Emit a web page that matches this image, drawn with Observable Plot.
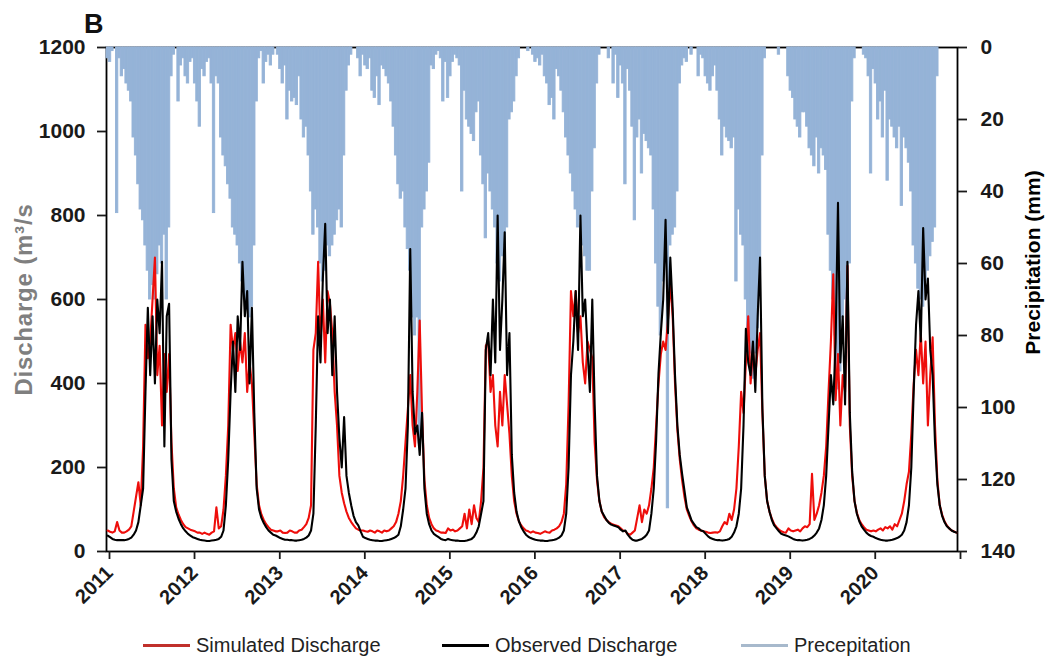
<!DOCTYPE html>
<html>
<head>
<meta charset="utf-8">
<script src="https://cdn.jsdelivr.net/npm/d3@7"></script>
<script src="https://cdn.jsdelivr.net/npm/@observablehq/plot@0.6"></script>
<style>
  html, body { margin: 0; padding: 0; background: #fff; }
  #wrap { position: relative; width: 1050px; height: 662px; overflow: hidden; font-family: "Liberation Sans", Arial, sans-serif; }
  #title { position: absolute; left: 84px; top: 9px; font-size: 27px; font-weight: bold; color: #111; }
  #chart { position: absolute; left: 0; top: 0; }
  #legend { position: absolute; top: 631px; left: 0; width: 1050px; height: 28px; }
  .item { position: absolute; top: 0; display: flex; align-items: center; height: 28px; font-size: 20px; color: #222; }
  .sw { width: 47px; height: 3px; margin-right: 6px; }
</style>
</head>
<body>
<div id="wrap">
  <div id="chart"></div>
  <div id="title">B</div>
  <div id="legend"></div>
</div>
<script>
// ---- data (dekadal values, 36 per year) ----
const years = [2011, 2012, 2013, 2014, 2015, 2016, 2017, 2018, 2019, 2020];

const observedQ = [
  38,34,30,28,27,27,27,27,28,30,33,40, 50,70,110,150,380,580, 420,560,400,600,520,690, 250,560,590,220,120,95, 78,65,55,48,42,38,
  34,32,30,28,27,26,25,25,26,27,28,30, 35,50,110,220,380,500, 380,560,480,690,560,620, 400,580,330,150,100,80, 68,58,50,45,40,38,
  35,32,30,28,28,27,27,26,26,27,28,30, 33,38,50,90,300,560, 450,650,780,520,600,420, 560,380,270,200,320,180, 140,110,85,70,62,48,
  35,32,30,28,27,26,26,25,25,26,27,28, 30,32,35,40,60,100, 150,300,720,380,280,300, 230,330,150,90,65,50, 42,38,34,30,28,27,
  30,28,27,26,26,25,25,25,26,28,30,35, 45,60,90,120,480,520, 420,600,450,800,480,600, 760,420,520,230,140,95, 72,58,48,40,35,32,
  30,28,27,26,26,25,25,26,27,28,30,33, 38,50,90,200,420,500, 620,480,800,560,600,480, 380,600,350,180,120,95, 85,75,68,64,62,60,
  58,52,48,50,40,33,28,26,26,28,30,34, 40,50,90,150,264,423, 520,600,790,520,700,580, 420,300,230,185,145,105, 90,74,66,58,55,50,
  48,42,36,32,30,28,27,27,26,27,28,30, 35,45,60,90,150,300, 530,450,420,500,380,560, 700,340,180,120,95,75, 62,55,48,42,40,38,
  36,33,30,28,27,27,26,27,28,30,33,38, 45,55,75,110,180,300, 420,350,500,830,450,560, 350,690,330,190,120,90, 72,60,52,45,40,37,
  35,32,30,28,27,26,26,27,28,30,32,35, 40,50,70,110,200,380, 540,620,500,770,600,650, 480,420,260,160,110,85, 70,60,55,50,47,45
];

const simulatedQ = [
  50,47,45,48,70,50,45,45,48,52,60,95, 130,165,110,250,540,460, 500,600,700,420,490,300, 470,380,470,260,150,105, 88,75,65,58,55,52,
  50,48,45,45,42,45,42,40,45,48,105,55, 60,100,180,300,540,480, 520,430,500,450,520,380, 450,400,280,160,110,88, 75,65,58,52,50,48,
  48,50,45,44,45,50,48,45,45,50,52,58, 65,80,110,480,520,690, 500,600,450,620,590,520, 380,300,180,140,115,95, 80,70,62,55,52,50,
  50,48,47,50,48,45,50,48,45,50,48,50, 55,60,70,90,120,180, 260,340,420,300,250,380, 550,330,170,110,80,65, 55,50,48,45,45,44,
  55,50,52,48,50,55,60,90,55,100,65,110, 80,70,120,200,490,500, 380,420,300,250,380,300, 420,350,280,180,120,90, 72,62,55,50,48,45,
  48,45,44,42,45,48,46,45,50,52,55,60, 70,90,160,350,620,560, 620,520,560,450,400,500, 480,460,260,170,120,95, 82,75,70,66,64,62,
  60,55,50,48,42,40,45,50,80,110,70,100, 90,110,150,200,300,400, 470,500,480,550,640,560, 400,290,220,170,130,100, 85,72,62,55,52,50,
  48,47,45,44,45,46,45,48,60,70,65,90, 75,100,150,250,380,330, 450,560,400,480,420,480, 520,330,180,120,95,78, 65,58,52,48,46,45,
  55,50,48,50,52,48,55,60,58,65,185,75, 90,110,140,180,250,380, 500,660,360,470,300,420, 380,680,300,180,120,92, 75,65,58,52,50,48,
  50,48,52,55,50,58,55,60,52,65,60,75, 90,120,160,190,280,400, 480,420,520,400,500,300, 420,510,300,170,110,88, 72,62,55,50,48,45
];

const precipMM = [
  3,4,1,0,46,3,8,6,10,12,15,25, 30,38,45,48,55,62, 70,66,70,63,55,60, 52,70,50,8,2,0, 15,5,3,8,10,4,
  3,10,15,22,6,8,4,3,10,46,8,10, 25,30,33,38,42,50, 52,55,60,65,70,72, 75,72,55,15,3,1, 10,4,2,5,2,0,
  2,6,10,5,20,12,15,14,16,8,20,25, 22,30,40,52,45,50, 60,65,62,55,58,55, 52,48,45,50,30,12, 5,2,0,0,3,8,
  2,5,6,3,12,14,8,16,5,6,8,10, 15,22,30,38,42,40, 50,56,62,75,80,75, 110,50,45,40,32,5, 6,2,1,3,15,4,
  14,8,4,2,3,5,40,12,20,22,24,26, 18,15,30,38,53,35, 40,45,50,60,65,58, 55,50,20,18,15,8, 3,0,0,0,1,0,
  2,4,3,5,2,8,10,16,14,20,6,8, 12,18,25,30,35,40, 45,50,48,55,58,62, 62,40,28,10,2,0, 0,0,3,0,10,2,
  14,5,10,38,6,12,22,48,25,20,35,24, 26,28,30,45,60,72, 80,65,60,128,55,52, 50,40,10,5,3,4, 0,2,0,0,8,2,
  3,8,10,12,8,5,12,20,30,22,25,26, 28,25,65,45,52,55, 70,80,85,92,85,78, 62,30,3,0,0,0, 0,0,2,0,0,0,
  8,12,14,20,22,25,18,18,22,28,30,33, 25,35,28,30,34,52, 62,70,80,95,90,75, 70,80,60,15,3,0, 0,0,2,3,8,35,
  6,10,20,15,25,12,37,20,22,25,28,22, 44,25,28,32,40,55, 60,67,70,72,65,62, 58,54,50,8,0,0, 0,0,0,0,0,0
];

const dischargeTicks = [0, 200, 400, 600, 800, 1000, 1200];
const precipTicks = [0, 20, 40, 60, 80, 100, 120, 140];
const yearTicks = [2011, 2012, 2013, 2014, 2015, 2016, 2017, 2018, 2019, 2020, 2021];
const yearLabels = ["2011","2012","2013","2014","2015","2016","2017","2018","2019","2020",""];
const seriesNames = ["Simulated Discharge", "Observed Discharge", "Precepitation"];
const seriesColors = ["#ee0e0b", "#000000", "#95b3d7"];

// ---- build tables ----
const QMAX = 1200, PMAX = 140;
const pToY = p => QMAX - p * QMAX / PMAX;
function dekDate(year, d) {
  const s = Date.UTC(year, 0, 1), e = Date.UTC(year + 1, 0, 1);
  return new Date(s + (e - s) * d / 36);
}
const rows = [];
years.forEach((yr, i) => {
  for (let d = 0; d < 36; d++) {
    const k = i * 36 + d;
    rows.push({
      t: dekDate(yr, d + 0.5), t0: dekDate(yr, d), t1: dekDate(yr, d + 1),
      obs: observedQ[k], sim: simulatedQ[k], p: precipMM[k]
    });
  }
});

const font = '"Liberation Sans", Arial, sans-serif';
const chart = Plot.plot({
  width: 1050,
  height: 620,
  marginLeft: 106,
  marginRight: 93,
  marginTop: 47,
  marginBottom: 69,
  style: { fontFamily: font, fontSize: "21px", fontWeight: "bold", color: "#1a1a1a", background: "#fff" },
  x: { type: "utc", domain: [new Date(Date.UTC(2011, 0, 1)), new Date(Date.UTC(2021, 0, 1))] },
  y: { domain: [0, QMAX] },
  marks: [
    Plot.frame({ stroke: "#000", strokeWidth: 1.8 }),
    Plot.rect(rows, { x1: "t0", x2: "t1", y1: () => QMAX, y2: d => pToY(d.p), fill: seriesColors[2], stroke: seriesColors[2], strokeWidth: 0.9 }),
    Plot.line(rows, { x: "t", y: "sim", stroke: seriesColors[0], strokeWidth: 2.1 }),
    Plot.line(rows, { x: "t", y: "obs", stroke: seriesColors[1], strokeWidth: 2.1 }),
    Plot.axisY({ anchor: "left", ticks: dischargeTicks, tickSize: 9, tickPadding: 12, label: null, tickFormat: d => String(d), strokeWidth: 1.8 }),
    Plot.axisY({ anchor: "right", ticks: precipTicks.map(pToY), tickSize: 9, tickPadding: 14, label: null,
      tickFormat: v => String(Math.round((QMAX - v) * PMAX / QMAX)), strokeWidth: 1.8 }),
    Plot.axisX({ anchor: "bottom", ticks: yearTicks.map(y => new Date(Date.UTC(y, 0, 1))), tickSize: 8, tickPadding: 10,
      tickRotate: -45, label: null, strokeWidth: 1.8, dx: 3, fontSize: 20,
      tickFormat: d => yearLabels[yearTicks.indexOf(d.getUTCFullYear())] }),
    Plot.text(["Discharge (m³/s"], { frameAnchor: "left", textAnchor: "middle", rotate: -90, dx: -82, fill: "#7f7f7f", fontSize: 24 }),
    Plot.text(["Precipitation (mm)"], { frameAnchor: "right", textAnchor: "middle", rotate: -90, dx: 76, dy: -37, fill: "#000", fontSize: 21 })
  ]
});
document.getElementById("chart").appendChild(chart);
d3.select(chart).selectAll("text").filter(function () { return this.textContent === "Discharge (m³/s"; })
  .style("letter-spacing", "0.8px");

// ---- legend ----
const legend = document.getElementById("legend");
const legendLeft = [143, 442, 741];
const swatchColors = ["#c0302b", "#000000", "#a7b9cc"];
seriesNames.forEach((name, i) => {
  const it = document.createElement("div");
  it.className = "item";
  it.style.left = legendLeft[i] + "px";
  const sw = document.createElement("div");
  sw.className = "sw";
  sw.style.background = swatchColors[i];
  const tx = document.createElement("span");
  tx.textContent = name;
  it.appendChild(sw);
  it.appendChild(tx);
  legend.appendChild(it);
});
</script>
</body>
</html>
